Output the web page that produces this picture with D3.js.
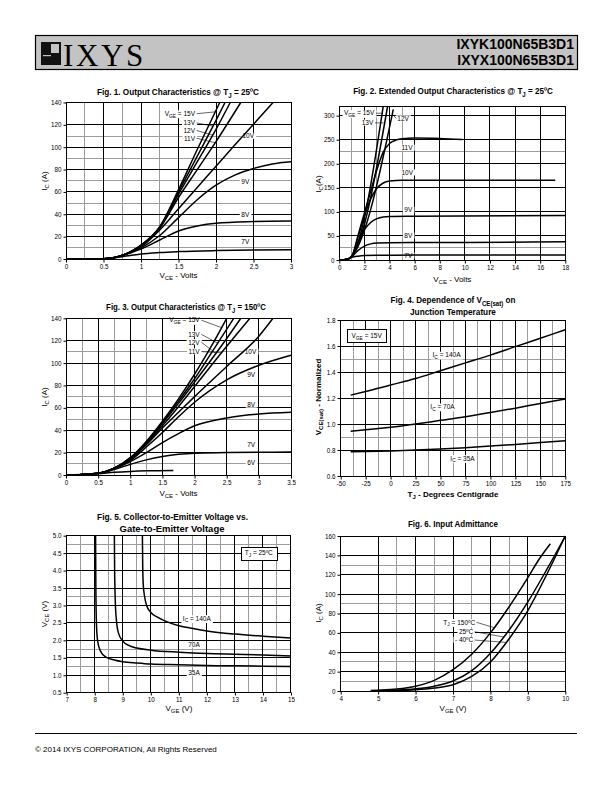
<!DOCTYPE html>
<html><head><meta charset="utf-8">
<script src="https://cdn.jsdelivr.net/npm/d3@7"></script>
<style>
body{margin:0;background:#fff}
svg{display:block}
text{font-family:"Liberation Sans",Arial,Helvetica,sans-serif;fill:#000}
</style></head><body>
<svg id="page" width="612" height="792"></svg>
<script>
// ---------------- DATA ----------------
// Fig.1 Output characteristics @ 25C  [VCE (V), IC (A)]
const f1_15V = [[0,0],[0.5,0.3],[0.6,0.8],[0.7,2.2],[0.8,4.5],[0.9,8],[1.0,12.5],[1.25,29],[1.5,62],[1.75,98],[2.05,140]];
const f1_13V = [[0,0],[0.5,0.3],[0.6,0.8],[0.7,2.2],[0.8,4.5],[0.9,8],[1.0,12.3],[1.25,28.5],[1.5,60],[1.75,92],[2.0,124],[2.12,140]];
const f1_12V = [[0,0],[0.5,0.3],[0.6,0.8],[0.7,2.2],[0.8,4.5],[0.9,8],[1.0,12.1],[1.25,28],[1.5,58],[1.75,87],[2.0,116],[2.19,140]];
const f1_11V = [[0,0],[0.5,0.3],[0.6,0.8],[0.7,2.2],[0.8,4.5],[0.9,7.8],[1.0,11.8],[1.25,27.5],[1.5,55],[1.75,80],[2.0,105],[2.33,140]];
const f1_10V = [[0,0],[0.5,0.3],[0.6,0.8],[0.7,2.2],[0.8,4.5],[0.9,7.5],[1.0,11],[1.25,26],[1.5,45],[1.75,64],[2.0,83],[2.25,102],[2.5,120.5],[2.76,140]];
const f1_9V  = [[0,0],[0.5,0.3],[0.6,0.8],[0.7,2.2],[0.8,4.4],[0.9,7],[1.0,10],[1.25,21],[1.5,37],[1.75,53],[2.0,66],[2.25,75],[2.5,81],[2.75,85],[3.0,87]];
const f1_8V  = [[0,0],[0.5,0.3],[0.6,0.8],[0.7,2],[0.8,4],[0.9,6.5],[1.0,9],[1.25,17],[1.5,25],[1.75,29.5],[2.0,32],[2.5,33.5],[3.0,34]];
const f1_7V  = [[0,0],[0.5,0.3],[0.6,0.7],[0.7,1.6],[0.8,2.6],[0.9,3.6],[1.0,4.5],[1.25,5.8],[1.5,6.6],[2.0,7.5],[2.5,8.0],[3.0,8.3]];

// Fig.2 Extended output characteristics @ 25C
const f2_15V = [[0,0],[0.4,0.5],[0.6,1.5],[0.8,3.5],[1.0,8],[3.5,320]];
const f2_13V = [[0,0],[0.4,0.5],[0.6,1.5],[0.8,3.5],[1.0,8],[3.85,320]];
const f2_12V = [[0,0],[0.4,0.5],[0.6,1.5],[0.8,3.5],[1.0,8],[4.3,313]];
const f2_11V = [[0,0],[0.4,0.5],[0.6,1.5],[0.8,3.5],[1.0,8],[1.5,52],[2,98],[2.5,143],[3,188],[3.5,224],[4,242],[4.5,249],[5,252],[6,253.5],[8,252.5],[9.8,250.5]];
const f2_10V = [[0,0],[0.4,0.5],[0.6,1.5],[0.8,3.5],[1.0,8],[1.5,48],[2,92],[2.5,127],[3,149],[3.5,160],[4,164],[5,165.5],[17.2,165.5]];
const f2_9V  = [[0,0],[0.4,0.5],[0.6,1.5],[0.8,3.5],[1.0,8],[1.5,38],[2,63],[2.5,78],[3,86],[3.5,89.5],[4,90.5],[6,91],[18,92.5]];
const f2_8V  = [[0,0],[0.4,0.5],[0.6,1.5],[0.8,3.5],[1.0,7],[1.5,20],[2,29],[2.5,33.5],[3,35.3],[4,36],[10,36.5],[18,38]];
const f2_7V  = [[0,0],[0.4,0.5],[0.6,1.5],[0.8,3.3],[1.0,5.5],[1.5,8],[2,9.3],[3,10],[6,10.2],[18,10.5]];

// Fig.3 Output characteristics @ 150C
const f3_15V = [[0,0],[0.25,0.5],[0.5,1.5],[0.75,6.2],[1.0,15.5],[1.25,30],[1.5,48],[1.75,68],[2.0,90],[2.25,114],[2.5,140]];
const f3_13V = [[0,0],[0.25,0.5],[0.5,1.5],[0.75,6.2],[1.0,15],[1.25,29.5],[1.5,47],[1.75,66],[2.0,86],[2.25,108],[2.61,140]];
const f3_12V = [[0,0],[0.25,0.5],[0.5,1.5],[0.75,6.1],[1.0,15],[1.25,29],[1.5,46],[1.75,64],[2.0,83],[2.5,122],[2.72,140]];
const f3_11V = [[0,0],[0.25,0.5],[0.5,1.5],[0.75,6],[1.0,14.5],[1.25,28],[1.5,44],[1.75,61],[2.0,79],[2.5,115],[2.86,140]];
const f3_10V = [[0,0],[0.25,0.5],[0.5,1.5],[0.75,6],[1.0,14],[1.25,27],[1.5,42],[1.75,56],[2.0,70],[2.5,97],[3.0,124],[3.22,140]];
const f3_9V  = [[0,0],[0.25,0.5],[0.5,1.5],[0.75,6],[1.0,13],[1.25,25],[1.5,38],[1.75,52],[2.0,65],[2.5,85],[3.0,98],[3.5,107]];
const f3_8V  = [[0,0],[0.25,0.5],[0.5,1.5],[0.75,5.5],[1.0,12],[1.25,20],[1.5,29],[1.75,37],[2.0,44],[2.5,51],[3.0,54.5],[3.5,56]];
const f3_7V  = [[0,0],[0.25,0.5],[0.5,1.5],[0.75,5],[1.0,9.5],[1.25,13.5],[1.5,16.5],[1.75,18.5],[2.0,19.5],[2.5,20],[3.5,20.5]];
const f3_6V  = [[0,0],[0.25,0.5],[0.5,1.2],[0.75,2.4],[1.0,3.2],[1.25,3.7],[1.67,4.0]];

// Fig.4 VCE(sat) normalized vs junction temperature
const f4_temp  = [-40,-25,0,25,50,75,100,125,150,175];
const f4_140A  = [1.222,1.25,1.30,1.35,1.41,1.47,1.53,1.595,1.66,1.725];
const f4_70A   = [0.945,0.955,0.975,1.0,1.028,1.056,1.088,1.122,1.158,1.193];
const f4_35A   = [0.786,0.788,0.793,0.80,0.808,0.818,0.83,0.843,0.857,0.872];

// Fig.5 VCE vs VGE @ 25C  [VGE (V), VCE (V)]
const f5_140A = [[9.70,5.0],[9.71,4.2],[9.73,3.6],[9.78,3.25],[9.85,3.0],[10,2.8],[10.25,2.66],[10.5,2.56],[11,2.42],[11.5,2.34],[12,2.27],[13,2.18],[14,2.12],[15,2.07]];
const f5_70A  = [[8.70,5.0],[8.71,4.0],[8.73,3.2],[8.77,2.6],[8.85,2.2],[9.0,1.98],[9.25,1.84],[9.5,1.78],[10,1.72],[11,1.66],[12,1.62],[13,1.6],[14,1.58],[15,1.55]];
const f5_35A  = [[8.03,5.0],[8.04,3.5],[8.06,2.5],[8.1,2.0],[8.2,1.7],[8.4,1.52],[8.7,1.44],[9,1.39],[9.5,1.35],[10,1.32],[11,1.3],[12,1.28],[13,1.27],[14,1.26],[15,1.25]];

// Fig.6 Input admittance [VGE (V), IC (A)]
const f6_150C = [[4.8,0.5],[5,0.8],[5.5,2],[6,5],[6.5,11],[7,22],[7.5,38],[8,60],[8.5,87],[9,117],[9.3,136],[9.6,152]];
const f6_25C  = [[5,0.3],[5.5,0.8],[6,2.2],[6.5,5],[7,10.3],[7.5,21],[8,39],[8.5,63],[9,92],[9.5,125],[10,160]];
const f6_m40C = [[5,0.1],[5.5,0.4],[6,1.2],[6.5,3],[7,6.5],[7.5,15],[8,30],[8.5,54],[9,83],[9.5,120],[10,160]];

// tick values
const f1_xTicks = [0,0.5,1,1.5,2,2.5,3], f1_yTicks = [0,20,40,60,80,100,120,140];
const f2_xTicks = [0,2,4,6,8,10,12,14,16,18], f2_yTicks = [0,50,100,150,200,250,300];
const f3_xTicks = [0,0.5,1,1.5,2,2.5,3,3.5], f3_yTicks = [0,20,40,60,80,100,120,140];
const f4_xTicks = [-50,-25,0,25,50,75,100,125,150,175], f4_yTicks = [0.6,0.8,1.0,1.2,1.4,1.6,1.8];
const f5_xTicks = [7,8,9,10,11,12,13,14,15], f5_yTicks = [0.5,1.0,1.5,2.0,2.5,3.0,3.5,4.0,4.5,5.0];
const f6_xTicks = [4,5,6,7,8,9,10], f6_yTicks = [0,20,40,60,80,100,120,140,160];

// ---------------- DRAWING ----------------
const svg = d3.select("#page");

function rich(t, str, fs) {
  const parts = str.split(/(_\{[^}]*\})/).filter(p => p.length);
  let shifted = false;
  parts.forEach(p => {
    if (p.startsWith("_{")) {
      t.append("tspan").attr("dy", fs * 0.28).attr("font-size", fs * 0.75).text(p.slice(2, -1));
      shifted = true;
    } else {
      const ts = t.append("tspan").text(p);
      if (shifted) { ts.attr("dy", -fs * 0.28); shifted = false; }
    }
  });
  return t;
}
function interp(s, tx) {
  for (let i = 1; i < s.length; i++) {
    if (tx <= s[i][0]) {
      const [x0, y0] = s[i - 1], [x1, y1] = s[i];
      return y0 + (y1 - y0) * (tx - x0) / (x1 - x0);
    }
  }
  return s[s.length - 1][1];
}

function chart(c) {
  const g = svg.append("g");
  const x = d3.scaleLinear().domain(c.xDomain).range([c.left, c.right]);
  const y = d3.scaleLinear().domain(c.yDomain).range([c.bottom, c.top]);
  const cr = v => Math.round(v - 0.5) + 0.5;
  const gridG = g.append("g"), bgG = g.append("g"), frameG = g.append("g"),
        curveG = g.append("g"), textG = g.append("g"), leadG = g.append("g");

  const vline = (v, col) => gridG.append("line").attr("x1", cr(x(v))).attr("x2", cr(x(v)))
      .attr("y1", c.top).attr("y2", c.bottom).attr("stroke", col).attr("stroke-width", 1);
  const hline = (v, col) => gridG.append("line").attr("y1", cr(y(v))).attr("y2", cr(y(v)))
      .attr("x1", c.left).attr("x2", c.right).attr("stroke", col).attr("stroke-width", 1);
  const inX = v => v > c.xDomain[0] && v < c.xDomain[1];
  const inY = v => v > c.yDomain[0] && v < c.yDomain[1];
  c.xMinor.forEach(v => vline(v, "#9c9c9c"));
  c.yMinor.forEach(v => hline(v, "#9c9c9c"));
  c.xTicks.filter(inX).forEach(v => vline(v, "#000"));
  c.yTicks.filter(inY).forEach(v => hline(v, "#000"));

  frameG.append("rect").attr("x", cr(c.left)).attr("y", cr(c.top))
    .attr("width", Math.round(c.right - c.left)).attr("height", Math.round(c.bottom - c.top))
    .attr("fill", "none").attr("stroke", "#000").attr("stroke-width", 1);

  // axes
  const fmt = c.fmt || (d => String(d));
  const fmtY = c.fmtY || (d => String(d));
  const ax = g.append("g").attr("transform", `translate(0,${cr(c.bottom)})`)
    .call(d3.axisBottom(x).tickValues(c.xTicks).tickSize(3).tickPadding(2).tickFormat(fmt));
  ax.select(".domain").remove();
  ax.attr("font-size", 6.3).attr("font-family", '"Liberation Sans",Arial,sans-serif');
  const ay = g.append("g").attr("transform", `translate(${cr(c.left)},0)`)
    .call(d3.axisLeft(y).tickValues(c.yTicks).tickSize(3).tickPadding(2).tickFormat(fmtY));
  ay.select(".domain").remove();
  ay.attr("font-size", 6.3).attr("font-family", '"Liberation Sans",Arial,sans-serif');

  // curves
  const line = d3.line().x(d => x(d[0])).y(d => y(d[1])).curve(d3.curveMonotoneX);
  c.series.forEach(s => curveG.append("path").attr("d", line(s)).attr("fill", "none")
    .attr("stroke", "#000").attr("stroke-width", 1.5).attr("stroke-linejoin", "round"));

  // labels
  const lfs = 6.5;
  (c.labels || []).forEach(L => {
    const t = textG.append("text").attr("x", x(L.x)).attr("y", y(L.y) + lfs * 0.35)
      .attr("font-size", lfs).attr("text-anchor", L.a || "middle");
    rich(t, L.t, lfs);
    const b = t.node().getBBox();
    if (L.box) {
      bgG.append("rect").attr("x", Math.round(b.x - 4) + 0.5).attr("y", Math.round(b.y - 2.5) + 0.5)
        .attr("width", Math.round(b.width + 8)).attr("height", Math.round(b.height + 4))
        .attr("fill", "#fff").attr("stroke", "#000").attr("stroke-width", 1);
      return;
    }
    bgG.append("rect").attr("x", b.x - 1.5).attr("y", b.y + 0.5).attr("width", b.width + 3)
      .attr("height", b.height - 1).attr("fill", "#fff");
    if (L.s) {
      const ty = interp(L.s, L.tx);
      const sx = (L.a === "end") ? b.x + b.width + 1 : b.x - 1;
      const sy = y(L.y);
      leadG.append("line").attr("x1", sx).attr("y1", sy).attr("x2", x(L.tx)).attr("y2", y(ty))
        .attr("stroke", "#000").attr("stroke-width", 0.6);
    }
  });

  // titles (condensed bold, scaled horizontally to the measured width)
  (c.title || []).forEach(T => {
    const t = g.append("text").attr("x", T.x).attr("y", T.y).attr("font-size", 9.6)
      .attr("font-weight", "bold").attr("text-anchor", "middle");
    rich(t, T.t, 9.6);
    const w0 = t.node().getBBox().width;
    const k = T.w / w0;
    t.attr("transform", `translate(${T.x},0) scale(${k},1) translate(${-T.x},0)`);
  });
  const xt = g.append("text").attr("x", (c.left + c.right) / 2).attr("y", c.xTitleY)
    .attr("font-size", 8).attr("text-anchor", "middle").attr("font-weight", c.boldAxis ? "bold" : null);
  rich(xt, c.xTitle, 8);
  const yt = g.append("text").attr("transform", `translate(${c.yTitleX},${c.yTitleCY}) rotate(-90)`)
    .attr("font-size", 8).attr("text-anchor", "middle").attr("font-weight", c.boldAxis ? "bold" : null);
  rich(yt, c.yTitle, 8);
}

// ---- header ----
svg.append("rect").attr("x", 35.5).attr("y", 35.5).attr("width", 542).attr("height", 34)
  .attr("fill", "#c3c3c3").attr("stroke", "#000").attr("stroke-width", 1.2);
svg.append("rect").attr("x", 41).attr("y", 42).attr("width", 20).attr("height", 23).attr("fill", "#111");
svg.append("rect").attr("x", 51).attr("y", 44).attr("width", 8).attr("height", 9).attr("fill", "#c3c3c3");
svg.append("rect").attr("x", 43).attr("y", 55).attr("width", 8).attr("height", 1.2).attr("fill", "#c3c3c3");
svg.append("text").attr("x", 63).attr("y", 65.5).attr("font-size", 31).attr("letter-spacing", 2.6)
  .style("font-family", '"Liberation Serif","Times New Roman",serif').attr("fill", "#111").text("IXYS");
svg.append("text").attr("x", 574).attr("y", 49).attr("font-size", 14).attr("font-weight", "bold")
  .attr("text-anchor", "end").text("IXYK100N65B3D1");
svg.append("text").attr("x", 574).attr("y", 65).attr("font-size", 14).attr("font-weight", "bold")
  .attr("text-anchor", "end").text("IXYX100N65B3D1");

// ---- footer ----
svg.append("line").attr("x1", 35).attr("x2", 577).attr("y1", 733.5).attr("y2", 733.5)
  .attr("stroke", "#000").attr("stroke-width", 1.2);
svg.append("text").attr("x", 35).attr("y", 752).attr("font-size", 8).text("© 2014 IXYS CORPORATION, All Rights Reserved");

// ---- Fig 1 ----
chart({
  left: 66, right: 291, top: 102.5, bottom: 259,
  xDomain: [0, 3], yDomain: [0, 140], xTicks: f1_xTicks, yTicks: f1_yTicks,
  xMinor: [0.25, 0.75, 1.25], yMinor: [10, 30, 50, 70, 90, 110],
  series: [f1_15V, f1_13V, f1_12V, f1_11V, f1_10V, f1_9V, f1_8V, f1_7V],
  labels: [
    {t: "V_{GE} = 15V", x: 1.72, y: 130, a: "end", s: f1_15V, tx: 1.99},
    {t: "13V", x: 1.72, y: 121.7, a: "end", s: f1_13V, tx: 1.96},
    {t: "12V", x: 1.72, y: 115, a: "end", s: f1_12V, tx: 1.955},
    {t: "11V", x: 1.72, y: 108, a: "end", s: f1_11V, tx: 1.99},
    {t: "10V", x: 2.43, y: 110}, {t: "9V", x: 2.39, y: 69.3},
    {t: "8V", x: 2.39, y: 40}, {t: "7V", x: 2.39, y: 15.8}
  ],
  title: [{t: "Fig. 1. Output Characteristics @ T_{J} = 25ºC", x: 178, y: 95, w: 162}],
  xTitle: "V_{CE} - Volts", xTitleY: 278, yTitle: "I_{C} (A)", yTitleX: 47, yTitleCY: 181
});

// ---- Fig 2 ----
chart({
  left: 339.3, right: 565.3, top: 106, bottom: 260,
  xDomain: [0, 18], yDomain: [0, 320], xTicks: f2_xTicks, yTicks: f2_yTicks,
  xMinor: [1, 3, 5], yMinor: [25, 225],
  series: [f2_15V, f2_13V, f2_12V, f2_11V, f2_10V, f2_9V, f2_8V, f2_7V],
  labels: [
    {t: "V_{GE} = 15V", x: 2.79, y: 305, a: "end", s: f2_15V, tx: 3.38},
    {t: "13V", x: 2.71, y: 285, a: "end", s: f2_13V, tx: 3.53},
    {t: "12V", x: 4.62, y: 294, a: "start", s: f2_12V, tx: 4.2},
    {t: "11V", x: 4.95, y: 233, a: "start"}, {t: "10V", x: 4.95, y: 181.5, a: "start"},
    {t: "9V", x: 5.18, y: 104, a: "start"}, {t: "8V", x: 5.18, y: 50, a: "start"},
    {t: "7V", x: 5.18, y: 9, a: "start"}
  ],
  title: [{t: "Fig. 2. Extended Output Characteristics @ T_{J} = 25ºC", x: 453, y: 94.5, w: 200}],
  xTitle: "V_{CE} - Volts", xTitleY: 282, yTitle: "I_{C}(A)", yTitleX: 321, yTitleCY: 184
});

// ---- Fig 3 ----
chart({
  left: 66, right: 291, top: 318.3, bottom: 475,
  xDomain: [0, 3.5], yDomain: [0, 140], xTicks: f3_xTicks, yTicks: f3_yTicks,
  xMinor: [0.25, 0.75, 1.25], yMinor: [10, 50, 70, 110],
  series: [f3_15V, f3_13V, f3_12V, f3_11V, f3_10V, f3_9V, f3_8V, f3_7V, f3_6V],
  labels: [
    {t: "V_{GE} = 15V", x: 2.08, y: 138.3, a: "end", s: f3_15V, tx: 2.42},
    {t: "13V", x: 2.08, y: 125.7, a: "end", s: f3_13V, tx: 2.36},
    {t: "12V", x: 2.08, y: 118.6, a: "end", s: f3_12V, tx: 2.33},
    {t: "11V", x: 2.08, y: 110.2, a: "end", s: f3_11V, tx: 2.42},
    {t: "10V", x: 2.87, y: 110}, {t: "9V", x: 2.88, y: 89.4},
    {t: "8V", x: 2.88, y: 62.6}, {t: "7V", x: 2.88, y: 26.8}, {t: "6V", x: 2.88, y: 11}
  ],
  title: [{t: "Fig. 3. Output Characteristics @ T_{J} = 150ºC", x: 186, y: 310.5, w: 160}],
  xTitle: "V_{CE} - Volts", xTitleY: 495.5, yTitle: "I_{C} (A)", yTitleX: 47, yTitleCY: 397
});

// ---- Fig 4 ----
chart({
  left: 340.7, right: 565.3, top: 320, bottom: 476,
  xDomain: [-50, 175], yDomain: [0.6, 1.8], xTicks: f4_xTicks, yTicks: f4_yTicks,
  xMinor: [-37.5, -12.5, 12.5, 37.5, 62.5, 87.5, 112.5, 137.5, 162.5], yMinor: [0.9, 1.5],
  fmtY: d3.format(".1f"),
  series: [f4_140A, f4_70A, f4_35A].map(v => f4_temp.map((t, i) => [t, v[i]])),
  labels: [
    {t: "I_{C} = 140A", x: 56, y: 1.531}, {t: "I_{C} = 70A", x: 52, y: 1.133},
    {t: "I_{C} = 35A", x: 72, y: 0.736}, {t: "V_{GE} = 15V", x: -24, y: 1.68, box: true}
  ],
  title: [{t: "Fig. 4. Dependence of V_{CE(sat)} on", x: 453, y: 303.5, w: 125},
          {t: "Junction Temperature", x: 453, y: 315.5, w: 86}],
  xTitle: "T_{J} - Degrees Centigrade", xTitleY: 497, yTitle: "V_{CE(sat)} - Normalized",
  yTitleX: 321, yTitleCY: 397, boldAxis: true
});

// ---- Fig 5 ----
chart({
  left: 66.7, right: 291, top: 535.7, bottom: 692.7,
  xDomain: [7, 15], yDomain: [0.5, 5.0], xTicks: f5_xTicks, yTicks: f5_yTicks,
  xMinor: [7.5, 8.5, 9.5, 10.5, 11.5, 12.5, 13.5, 14.5], yMinor: [1.25, 1.75, 3.25, 4.75],
  fmtY: d3.format(".1f"),
  series: [f5_140A, f5_70A, f5_35A],
  labels: [
    {t: "I_{C} = 140A", x: 11.64, y: 2.63}, {t: "70A", x: 11.54, y: 1.87},
    {t: "35A", x: 11.54, y: 1.06}, {t: "T_{J} = 25ºC", x: 13.85, y: 4.51, box: true}
  ],
  title: [{t: "Fig. 5. Collector-to-Emitter Voltage vs.", x: 172.5, y: 520.5, w: 151},
          {t: "Gate-to-Emitter Voltage", x: 172, y: 532, w: 105}],
  xTitle: "V_{GE} (V)", xTitleY: 711, yTitle: "V_{CE} (V)", yTitleX: 47, yTitleCY: 614
});

// ---- Fig 6 ----
chart({
  left: 340.7, right: 565.3, top: 536, bottom: 691,
  xDomain: [4, 10], yDomain: [0, 160], xTicks: f6_xTicks, yTicks: f6_yTicks,
  xMinor: [5.5, 6.5, 7.5, 8.5], yMinor: [10, 30, 90, 130],
  series: [f6_150C, f6_25C, f6_m40C],
  labels: [
    {t: "T_{J} = 150ºC", x: 7.59, y: 70.9, a: "end", s: f6_150C, tx: 8.1},
    {t: "25ºC", x: 7.54, y: 61.2, a: "end", s: f6_25C, tx: 8.35},
    {t: "- 40ºC", x: 7.54, y: 52.6, a: "end", s: f6_m40C, tx: 8.42}
  ],
  title: [{t: "Fig. 6. Input Admittance", x: 453, y: 527.5, w: 90}],
  xTitle: "V_{GE} (V)", xTitleY: 711, yTitle: "I_{C} (A)", yTitleX: 321, yTitleCY: 613
});
</script></body></html>
